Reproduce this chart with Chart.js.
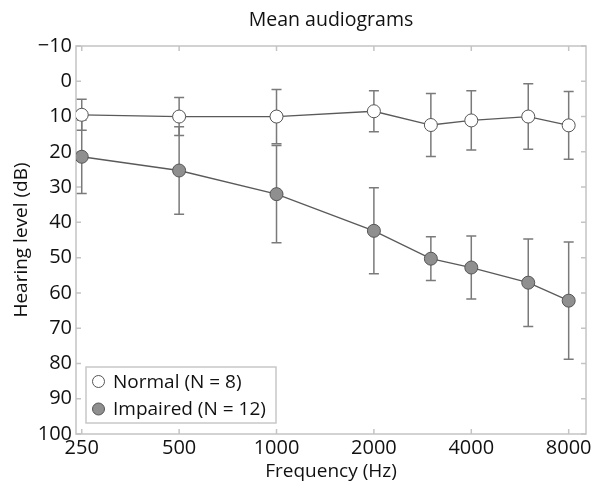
<!DOCTYPE html>
<html lang="en">
  <head>
    <meta charset="UTF-8" />
    <title>Mean audiograms</title>
    <script src="https://cdn.jsdelivr.net/npm/chart.js"></script>
    <style>
      body { margin: 0; background: #fff; }
      .grafico { position: relative; width: 602px; height: 498px; }
    </style>
  </head>
  <body>
    <div class="grafico">
      <canvas id="audiogramChart"></canvas>
    </div>

<script>
  // frequencias medidas (Hz)
  const freqs = [250, 500, 1000, 2000, 3000, 4000, 6000, 8000];
  const xTicks = [250, 500, 1000, 2000, 4000, 8000];

  // media e desvio (dB HL)
  const normalMean = [9.5, 10, 10, 8.5, 12.4, 11.1, 10, 12.5];
  const normalSd = [4.4, 5.4, 7.7, 5.8, 8.9, 8.4, 9.3, 9.6];
  const impairedMean = [21.4, 25.3, 32, 42.4, 50.3, 52.8, 57.1, 62.2];
  const impairedSd = [10.4, 12.4, 13.8, 12.2, 6.2, 8.9, 12.4, 16.6];

  const labels = ["Normal (N = 8)", "Impaired (N = 12)"];

  const FONT = "'Open Sans', sans-serif";
  Chart.defaults.font.family = FONT;
  Chart.defaults.color = "#111";

  const toPoints = (ys) => freqs.map((f, i) => ({ x: f, y: ys[i] }));

  // barras de erro (atras dos marcadores)
  const errorBars = {
    id: "errorBars",
    beforeDatasetsDraw(chart) {
      const { ctx, scales } = chart;
      const sds = [normalSd, impairedSd];
      ctx.save();
      ctx.strokeStyle = "#7a7a7a";
      ctx.lineWidth = 1.5;
      chart.data.datasets.forEach((ds, d) => {
        ds.data.forEach((p, i) => {
          const x = scales.x.getPixelForValue(p.x);
          const y1 = scales.y.getPixelForValue(p.y - sds[d][i]);
          const y2 = scales.y.getPixelForValue(p.y + sds[d][i]);
          ctx.beginPath();
          ctx.moveTo(x, y1); ctx.lineTo(x, y2);
          ctx.moveTo(x - 5, y1); ctx.lineTo(x + 5, y1);
          ctx.moveTo(x - 5, y2); ctx.lineTo(x + 5, y2);
          ctx.stroke();
        });
      });
      ctx.restore();
    },
  };

  // moldura com ticks para dentro
  const frame = {
    id: "frame",
    beforeDatasetsDraw(chart) {
      const { ctx, chartArea: a, scales } = chart;
      ctx.save();
      ctx.strokeStyle = "#c4c4c4";
      ctx.lineWidth = 1.5;
      ctx.strokeRect(a.left, a.top, a.right - a.left, a.bottom - a.top);
      ctx.beginPath();
      scales.x.ticks.forEach((t) => {
        const x = scales.x.getPixelForValue(t.value);
        ctx.moveTo(x, a.top); ctx.lineTo(x, a.top + 5);
        ctx.moveTo(x, a.bottom); ctx.lineTo(x, a.bottom - 5);
      });
      scales.y.ticks.forEach((t) => {
        const y = scales.y.getPixelForValue(t.value);
        ctx.moveTo(a.left, y); ctx.lineTo(a.left + 5, y);
        ctx.moveTo(a.right, y); ctx.lineTo(a.right - 5, y);
      });
      ctx.stroke();
      ctx.restore();
    },
  };

  // legenda dentro do grafico, canto inferior esquerdo
  const boxLegend = {
    id: "boxLegend",
    afterDraw(chart) {
      const { ctx, chartArea: a } = chart;
      const w = 190, h = 56;
      const x = a.left + 10, y = a.bottom - 11 - h;
      ctx.save();
      ctx.fillStyle = "#fff";
      ctx.strokeStyle = "#c8c8c8";
      ctx.lineWidth = 1.5;
      ctx.fillRect(x, y, w, h);
      ctx.strokeRect(x, y, w, h);
      ctx.font = "19px " + FONT;
      ctx.textBaseline = "middle";
      chart.data.datasets.forEach((ds, i) => {
        const cy = y + 14.5 + i * 27.5;
        ctx.beginPath();
        ctx.arc(x + 12.5, cy, 6, 0, Math.PI * 2);
        ctx.fillStyle = ds.pointBackgroundColor;
        ctx.fill();
        ctx.strokeStyle = ds.pointBorderColor;
        ctx.lineWidth = 1;
        ctx.stroke();
        ctx.fillStyle = "#111";
        ctx.fillText(ds.label, x + 27, cy + 1);
      });
      ctx.restore();
    },
  };

  const ctx = document.getElementById("audiogramChart").getContext("2d");

  const chart = new Chart(ctx, {
    type: "line",
    data: {
      datasets: [
        {
          label: labels[0],
          data: toPoints(normalMean),
          borderColor: "#5a5a5a",
          borderWidth: 1.3,
          pointRadius: 6.5,
          pointBorderWidth: 1,
          pointBackgroundColor: "#ffffff",
          pointBorderColor: "#555555",
        },
        {
          label: labels[1],
          data: toPoints(impairedMean),
          borderColor: "#5a5a5a",
          borderWidth: 1.3,
          pointRadius: 6.5,
          pointBorderWidth: 1,
          pointBackgroundColor: "#8f8f8f",
          pointBorderColor: "#555555",
        },
      ],
    },
    options: {
      responsive: true,
      maintainAspectRatio: false,
      animation: false,
      layout: { padding: { left: 0, right: 16, top: 0, bottom: 0 } },
      plugins: {
        legend: { display: false },
        tooltip: { enabled: false },
        title: {
          display: true,
          fullSize: false, // centraliza sobre a area do grafico
          text: "Mean audiograms",
          font: { size: 19.5, weight: "normal" },
          color: "#111",
          padding: { top: 9, bottom: 13.6 },
        },
      },
      scales: {
        x: {
          type: "logarithmic",
          min: 240,
          max: 9050,
          afterBuildTicks: (scale) => {
            scale.ticks = xTicks.map((v) => ({ value: v }));
          },
          afterFit: (scale) => { scale.height = 64; },
          grid: { display: false, drawTicks: false },
          border: { display: false },
          ticks: {
            font: { size: 20 },
            color: "#111",
            padding: 2,
            maxRotation: 0,
            autoSkip: false,
            callback: (v) => String(v),
          },
          title: {
            display: true,
            text: "Frequency (Hz)",
            font: { size: 19 },
            color: "#111",
            padding: { top: 0, bottom: 14.6 },
          },
        },
        y: {
          type: "linear",
          reverse: true,
          min: -10,
          max: 100,
          afterFit: (scale) => { scale.width = 76; },
          grid: { display: false, drawTicks: false },
          border: { display: false },
          ticks: {
            stepSize: 10,
            font: { size: 20 },
            color: "#111",
            padding: 4,
            callback: (v) => (v < 0 ? "\u2212" + Math.abs(v) : String(v)),
          },
          title: {
            display: true,
            text: "Hearing level (dB)",
            font: { size: 19 },
            color: "#111",
            padding: { top: 10, bottom: 0 },
          },
        },
      },
    },
    plugins: [frame, errorBars, boxLegend],
  });
</script>
  </body>
</html>
